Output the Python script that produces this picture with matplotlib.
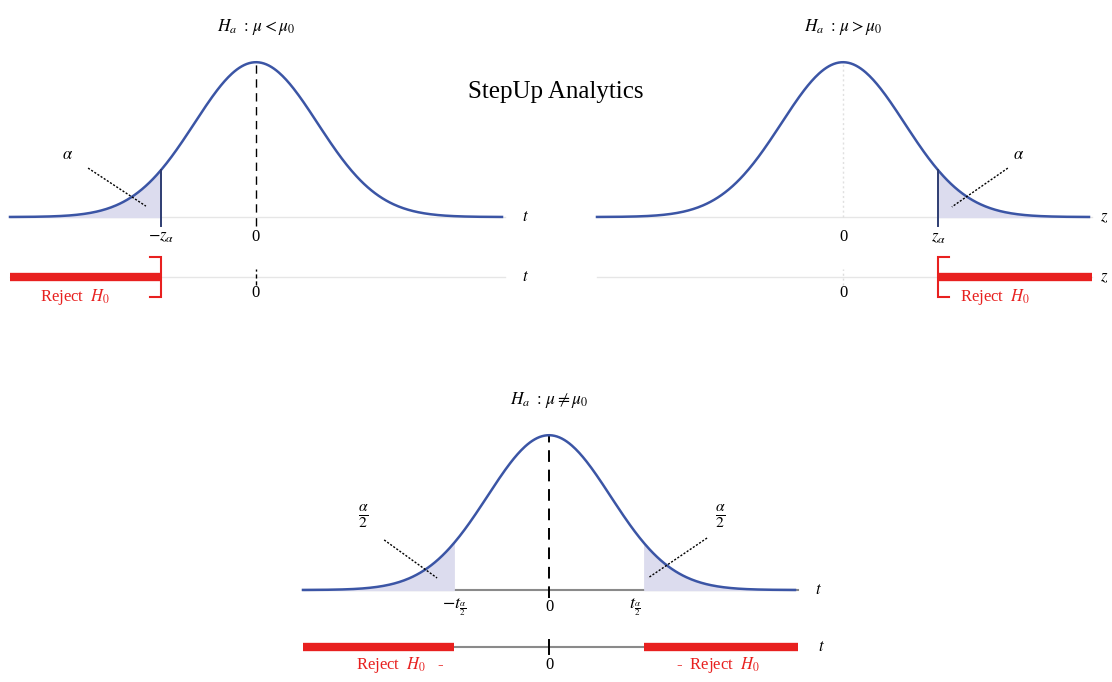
import numpy as np
import matplotlib
matplotlib.use('Agg')
import matplotlib.pyplot as plt

plt.rcParams['font.family'] = ['Liberation Serif', 'DejaVu Serif']
plt.rcParams['mathtext.fontset'] = 'stix'

# ---------- datos ----------
z_lo, z_hi = -4.0, 4.0          # extremos de la curva
z_crit = 1.55                   # valor crítico (z_alpha, t_alpha/2)
titles = [r'$H_a\ :\, \mu < \mu_0$', r'$H_a\ :\, \mu > \mu_0$', r'$H_a\ :\, \mu \neq \mu_0$']
axis_vars = ['t', 'z', 't']
crit_labels = [[r'$-z_{\alpha}$'], [r'$z_{\alpha}$'], [r'$-t_{\frac{\alpha}{2}}$', r'$t_{\frac{\alpha}{2}}$']]
tail_labels = [r'$\alpha$', r'$\alpha$', r'$\frac{\alpha}{2}$']
reject_text = r'Reject  $H_0$'

BLUE = '#3b55a5'
FILL = '#dcdcee'
RED = '#e8201f'
GRAY = '#8a8a8a'
LIGHT = '#e6e6e6'

# ---------- escala en píxeles ----------
W, H = 1112, 682
SX, SY = 61.5, 388.0   # px por unidad

def make_ax(fig, cx, base, xlim=(-4.2, 4.6), ylim=(-0.26, 0.5)):
    left = (cx + xlim[0] * SX) / W
    width = (xlim[1] - xlim[0]) * SX / W
    bottom = (H - (base - ylim[0] * SY)) / H
    height = (ylim[1] - ylim[0]) * SY / H
    ax = fig.add_axes([left, bottom, width, height])
    ax.set_xlim(xlim)
    ax.set_ylim(ylim)
    ax.axis('off')
    return ax

def pdf(x):
    return np.exp(-x**2 / 2) / np.sqrt(2 * np.pi)

x = np.linspace(z_lo, z_hi, 400)
peak = pdf(0)
row_y = -0.155

fig = plt.figure(figsize=(W / 100, H / 100), dpi=100)

def curve(ax, title, var, base_color, base_lw, var_x=4.33):
    ax.plot([z_lo, z_hi + 0.05], [0, 0], color=base_color, lw=base_lw, zorder=1)
    ax.plot(x, pdf(x), color=BLUE, lw=1.8, zorder=3)
    ax.text(0, 0.49, title, ha='center', va='center', fontsize=12.5)
    ax.text(var_x, 0, f'${var}$', ha='left', va='center', fontsize=12)

def bracket(ax, xc, direction):
    ax.plot([xc + direction * 0.17, xc, xc, xc + direction * 0.17],
            [-0.103, -0.103, -0.207, -0.207], color=RED, lw=1.5,
            solid_joinstyle='miter', zorder=4)

# ---------- panel 1: cola izquierda ----------
ax = make_ax(fig, 256, 217)
curve(ax, titles[0], axis_vars[0], LIGHT, 1.0)
xs = x[x <= -z_crit]
ax.fill_between(np.append(xs, -z_crit), np.append(pdf(xs), pdf(-z_crit)), color=FILL, zorder=2)
ax.plot([-z_crit, -z_crit], [-0.022, pdf(z_crit)], color='#2e3d72', lw=1.4, zorder=3)
ax.plot([0, 0], [-0.022, peak], color='black', lw=1.0, ls=(0, (6, 4)), zorder=2)
ax.text(-z_crit, -0.052, crit_labels[0][0], ha='center', va='center', fontsize=12)
ax.text(0, -0.052, '0', ha='center', va='center', fontsize=12)
ax.text(-3.07, 0.16, tail_labels[0], ha='center', va='center', fontsize=12)
ax.plot([-2.73, -1.79], [0.126, 0.028], color='black', lw=1.0, ls=(0, (1.5, 1.2)), zorder=4)
# fila de rechazo
ax.plot([z_lo, z_hi + 0.05], [row_y, row_y], color=LIGHT, lw=1.0, zorder=1)
ax.plot([z_lo, -z_crit], [row_y, row_y], color=RED, lw=6, solid_capstyle='butt', zorder=3)
bracket(ax, -z_crit, -1)
ax.plot([0, 0], [row_y - 0.02, row_y + 0.02], color='black', lw=1.0, ls=(0, (3, 2)))
ax.text(0, -0.195, '0', ha='center', va='center', fontsize=12)
ax.text(4.33, row_y, f'${axis_vars[0]}$', ha='left', va='center', fontsize=12)
ax.text(-2.94, -0.206, reject_text, ha='center', va='center', fontsize=12, color=RED)

# ---------- panel 2: cola derecha ----------
ax = make_ax(fig, 843, 217, xlim=(-4.2, 4.4))
curve(ax, titles[1], axis_vars[1], LIGHT, 1.0, var_x=4.18)
xs = x[x >= z_crit]
ax.fill_between(np.insert(xs, 0, z_crit), np.insert(pdf(xs), 0, pdf(z_crit)), color=FILL, zorder=2)
ax.plot([z_crit, z_crit], [-0.022, pdf(z_crit)], color='#2e3d72', lw=1.4, zorder=3)
ax.plot([0, 0], [0, peak], color='#e0e0e0', lw=1.0, ls=(0, (1.5, 2)), zorder=1)
ax.text(z_crit, -0.055, crit_labels[1][0], ha='center', va='center', fontsize=12)
ax.text(0, -0.052, '0', ha='center', va='center', fontsize=12)
ax.text(2.85, 0.16, tail_labels[1], ha='center', va='center', fontsize=12)
ax.plot([2.68, 1.77], [0.126, 0.026], color='black', lw=1.0, ls=(0, (1.5, 1.2)), zorder=4)
ax.plot([z_lo, z_hi + 0.05], [row_y, row_y], color=LIGHT, lw=1.0, zorder=1)
ax.plot([z_crit, z_hi + 0.05], [row_y, row_y], color=RED, lw=6, solid_capstyle='butt', zorder=3)
bracket(ax, z_crit, 1)
ax.plot([0, 0], [row_y - 0.02, row_y + 0.02], color='#dddddd', lw=1.0, ls=(0, (1.5, 2)))
ax.text(0, -0.195, '0', ha='center', va='center', fontsize=12)
ax.text(4.18, row_y, f'${axis_vars[1]}$', ha='left', va='center', fontsize=12)
ax.text(2.47, -0.206, reject_text, ha='center', va='center', fontsize=12, color=RED)

# ---------- panel 3: dos colas ----------
ax = make_ax(fig, 549, 590)
curve(ax, titles[2], axis_vars[2], GRAY, 1.5)
xl = x[x <= -z_crit]
ax.fill_between(np.append(xl, -z_crit), np.append(pdf(xl), pdf(z_crit)), color=FILL, zorder=2)
xr = x[x >= z_crit]
ax.fill_between(np.insert(xr, 0, z_crit), np.insert(pdf(xr), 0, pdf(z_crit)), color=FILL, zorder=2)
ax.plot([0, 0], [-0.02, peak], color='black', lw=1.4, ls=(0, (6, 4)), zorder=2)
ax.text(-z_crit, -0.045, crit_labels[2][0], ha='center', va='center', fontsize=13)
ax.text(0, -0.045, '0', ha='center', va='center', fontsize=12)
ax.text(z_crit - 0.15, -0.045, crit_labels[2][1], ha='center', va='center', fontsize=13)
ax.text(-3.02, 0.19, tail_labels[2], ha='center', va='center', fontsize=16)
ax.plot([-2.68, -1.82], [0.129, 0.031], color='black', lw=1.0, ls=(0, (1.5, 1.2)), zorder=4)
ax.text(2.78, 0.19, tail_labels[2], ha='center', va='center', fontsize=16)
ax.plot([2.57, 1.61], [0.134, 0.031], color='black', lw=1.0, ls=(0, (1.5, 1.2)), zorder=4)
row3 = -0.147
ax.plot([-z_crit, z_crit], [row3, row3], color=GRAY, lw=1.5, zorder=1)
ax.plot([z_lo, -z_crit], [row3, row3], color=RED, lw=6, solid_capstyle='butt', zorder=3)
ax.plot([z_crit, z_hi + 0.05], [row3, row3], color=RED, lw=6, solid_capstyle='butt', zorder=3)
ax.plot([0, 0], [row3 - 0.018, row3 + 0.018], color='black', lw=1.4)
ax.text(0, -0.193, '0', ha='center', va='center', fontsize=12)
ax.text(4.37, row3, f'${axis_vars[2]}$', ha='left', va='center', fontsize=12)
ax.text(-2.42, -0.193, reject_text + '   -', ha='center', va='center', fontsize=12, color=RED)
ax.text(2.75, -0.193, '-  ' + reject_text, ha='center', va='center', fontsize=12, color=RED)

# marca
fig.text(556 / W, 1 - 92 / H, 'StepUp Analytics', ha='center', va='center', fontsize=18)

plt.savefig('out.png', dpi=100)
plt.close()
